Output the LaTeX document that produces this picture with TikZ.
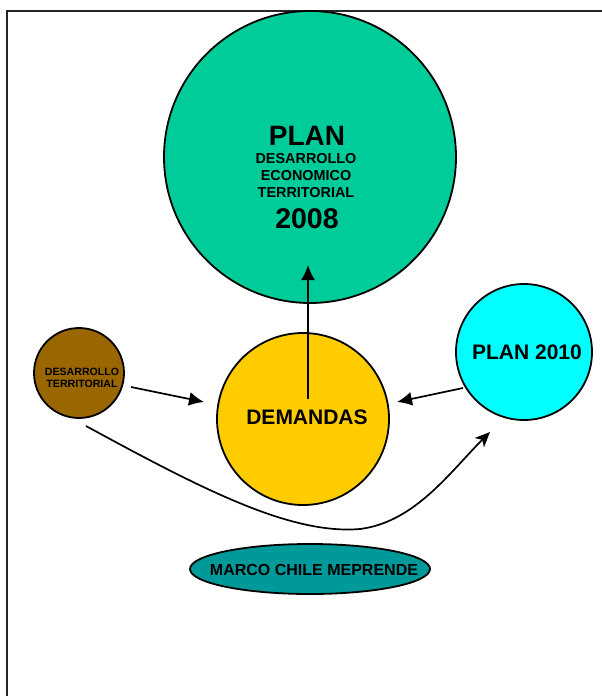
\documentclass[tikz,border=0pt]{standalone}
\usepackage{fontspec}
\setmainfont{Liberation Sans}
\usetikzlibrary{arrows.meta,shapes.geometric}
\definecolor{cgreen}{HTML}{00CC99}
\definecolor{cbrown}{HTML}{996600}
\definecolor{cyellow}{HTML}{FFCC00}
\definecolor{ccyan}{HTML}{00FFFF}
\definecolor{cteal}{HTML}{009999}
\begin{document}
\begin{tikzpicture}[x=1pt,y=-1pt,
  disc/.style={circle,draw=black,line width=1.8pt,inner sep=0pt},
  lbl/.style={font=\bfseries,align=center,inner sep=0pt},
  conn/.style={line width=1.7pt,-{Latex[length=15pt,width=14pt]}},
  curv/.style={line width=1.7pt,-{Stealth[length=15pt,width=13pt,inset=4pt]}}]
\useasboundingbox (0,0) rectangle (602,696);
\draw[line width=1.4pt,black!85] (7,696) -- (7,11) -- (602,11);
\node[disc,fill=cgreen,minimum size=292pt] (plan) at (310,157) {};
\node[disc,fill=cbrown,minimum size=90pt] (dt) at (79,373) {};
\node[disc,fill=cyellow,minimum size=172pt] (dem) at (303,419) {};
\node[disc,fill=ccyan,minimum size=136pt] (p10) at (524,352) {};
\node[ellipse,draw=black,line width=1.8pt,fill=cteal,minimum width=240pt,minimum height=50pt,inner sep=0pt] (marco) at (310,569) {};
\node[lbl,font=\bfseries\fontsize{28}{28}\selectfont] (tplan) at (307,136) {PLAN};
\node[lbl,font=\bfseries\fontsize{14.4}{17}\selectfont] (tdet) at (306,176) {DESARROLLO\\ECONOMICO\\TERRITORIAL};
\node[lbl,font=\bfseries\fontsize{28.5}{28}\selectfont] (t2008) at (307,219) {2008};
\node[lbl,font=\bfseries\fontsize{10.6}{12}\selectfont] (tdt) at (82,378) {DESARROLLO\\TERRITORIAL};
\node[lbl,font=\bfseries\fontsize{21}{21}\selectfont] (tdem) at (307,417) {DEMANDAS};
\node[lbl,font=\bfseries\fontsize{21}{21}\selectfont] (tp10) at (527,352) {PLAN 2010};
\node[lbl,font=\bfseries\fontsize{16}{16}\selectfont] (tmarco) at (314,570) {MARCO CHILE MEPRENDE};
\coordinate (vs) at (308,399);
\coordinate (ve) at (308,265);
\draw[conn] (vs) -- (ve);
\coordinate (a1s) at (131,387);
\coordinate (a1e) at (204,402);
\draw[conn] (a1s) -- (a1e);
\coordinate (a2s) at (463,388);
\coordinate (a2e) at (397,402);
\draw[conn] (a2s) -- (a2e);
\coordinate (cs) at (86,426);
\coordinate (cm) at (360,529);
\coordinate (ce) at (490,432);
\draw[curv] (cs) .. controls (200,488) and (290,535) .. (cm) .. controls (415,522) and (450,472) .. (ce);
\end{tikzpicture}
\end{document}
